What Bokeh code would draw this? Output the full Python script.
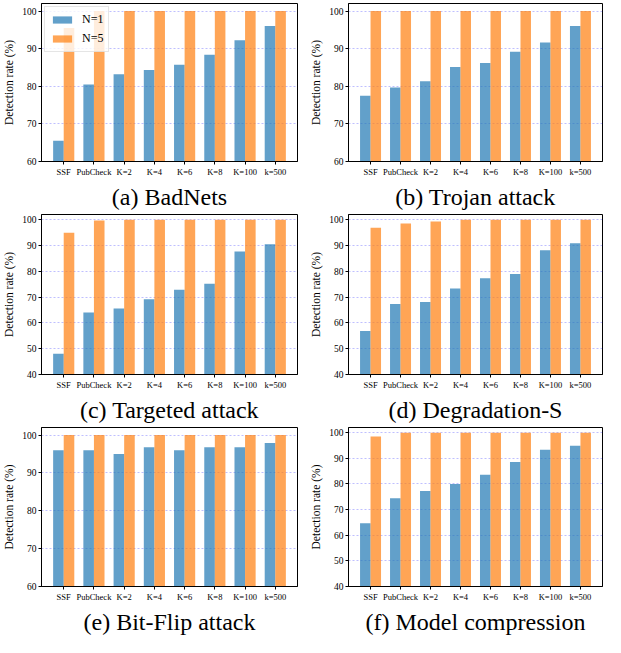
from bokeh.plotting import figure
from bokeh.layouts import gridplot
from bokeh.models import FixedTicker, Range1d, Legend, LegendItem
from bokeh.embed import file_html
from bokeh.resources import INLINE

categories = ["SSF", "PubCheck", "K=2", "K=4", "K=6", "K=8", "K=100", "k=500"]

titles = ["(a) BadNets", "(b) Trojan attack", "(c) Targeted attack",
          "(d) Degradation-S", "(e) Bit-Flip attack", "(f) Model compression"]

badnets_n1 = [65.5, 80.5, 83.2, 84.3, 85.7, 88.4, 92.2, 96.0]
badnets_n5 = [95.5, 100, 100, 100, 100, 100, 100, 100]
trojan_n1 = [77.5, 79.7, 81.3, 85.1, 86.2, 89.2, 91.6, 96.0]
trojan_n5 = [100, 100, 100, 100, 100, 100, 100, 100]
targeted_n1 = [48.0, 64.0, 65.6, 69.2, 72.8, 75.2, 87.7, 90.5]
targeted_n5 = [94.9, 99.7, 100, 100, 100, 100, 100, 100]
degradation_n1 = [56.9, 67.3, 68.1, 73.3, 77.3, 78.9, 88.1, 90.9]
degradation_n5 = [96.9, 98.5, 99.3, 100, 100, 100, 100, 100]
bitflip_n1 = [96.0, 96.0, 95.0, 96.8, 96.0, 96.8, 96.8, 97.9]
bitflip_n5 = [100, 100, 100, 100, 100, 100, 100, 100]
compression_n1 = [64.7, 74.4, 77.2, 80.0, 83.6, 88.5, 93.3, 94.9]
compression_n5 = [98.5, 100, 100, 100, 100, 100, 100, 100]

y_bottoms = [60, 60, 40, 40, 60, 40]
y_top = 102

series = [(badnets_n1, badnets_n5), (trojan_n1, trojan_n5),
          (targeted_n1, targeted_n5), (degradation_n1, degradation_n5),
          (bitflip_n1, bitflip_n5), (compression_n1, compression_n5)]

BLUE = "#1f77b4"
ORANGE = "#ff7f0e"
FONT = "Liberation Serif"
W = 0.35

row_heights = [211, 213, 212]

figs = []
for i, ((n1, n5), title, yb) in enumerate(zip(series, titles, y_bottoms)):
    col = i % 2
    p = figure(width=302, height=row_heights[i // 2], output_backend="svg",
               toolbar_location=None,
               title=title, title_location="below",
               x_range=Range1d(-0.735, 7.735), y_range=Range1d(yb, y_top),
               min_border_left=36 if col == 0 else 46,
               min_border_right=5 if col == 0 else 2,
               min_border_top=3, min_border_bottom=4)
    xs = list(range(len(categories)))
    r1 = p.vbar(x=[x - W / 2 for x in xs], top=n1, bottom=yb, width=W,
                fill_color=BLUE, fill_alpha=0.7, line_color=None)
    r5 = p.vbar(x=[x + W / 2 for x in xs], top=n5, bottom=yb, width=W,
                fill_color=ORANGE, fill_alpha=0.7, line_color=None)

    p.title.text_font = FONT
    p.title.text_font_size = "24px"
    p.title.text_font_style = "normal"
    p.title.text_color = "black"
    p.title.align = "center"
    p.title.standoff = 4

    p.xaxis.ticker = FixedTicker(ticks=xs)
    p.xaxis.major_label_overrides = {x: c for x, c in zip(xs, categories)}
    p.yaxis.ticker = FixedTicker(ticks=list(range(yb, 101, 10)))
    p.yaxis.axis_label = "Detection rate (%)"
    p.yaxis.axis_label_text_font = FONT
    p.yaxis.axis_label_text_font_size = "11.5px"
    p.yaxis.axis_label_text_font_style = "normal"
    p.yaxis.axis_label_text_color = "black"
    p.yaxis.axis_label_standoff = 4
    for ax in (p.xaxis, p.yaxis):
        ax.major_label_text_font = FONT
        ax.major_label_text_color = "black"
        ax.major_tick_out = 3
        ax.major_tick_in = 0
        ax.minor_tick_out = 0
        ax.minor_tick_in = 0
        ax.major_label_standoff = 2
        ax.axis_line_color = "black"
        ax.major_tick_line_color = "black"
    p.xaxis.major_label_text_font_size = "8.5px"
    p.yaxis.major_label_text_font_size = "9.5px"
    p.xgrid.grid_line_color = None
    p.ygrid.grid_line_color = "blue"
    p.ygrid.grid_line_alpha = 0.25
    p.ygrid.grid_line_dash = "2 2"
    p.outline_line_color = "black"
    p.outline_line_width = 1
    p.outline_line_alpha = 1

    if i == 0:
        legend = Legend(items=[LegendItem(label="N=1", renderers=[r1]),
                               LegendItem(label="N=5", renderers=[r5])],
                        location="top_left")
        legend.label_text_font = FONT
        legend.label_text_font_size = "12px"
        legend.label_text_color = "black"
        legend.glyph_width = 24
        legend.glyph_height = 9
        legend.label_standoff = 8
        legend.spacing = 4
        legend.padding = 5
        legend.margin = 3
        legend.border_line_color = "#cccccc"
        legend.background_fill_alpha = 0.8
        p.add_layout(legend)
    figs.append(p)

grid = gridplot([[figs[0], figs[1]], [figs[2], figs[3]], [figs[4], figs[5]]],
                toolbar_location=None)

open("out.html", "w").write(file_html(grid, INLINE))
